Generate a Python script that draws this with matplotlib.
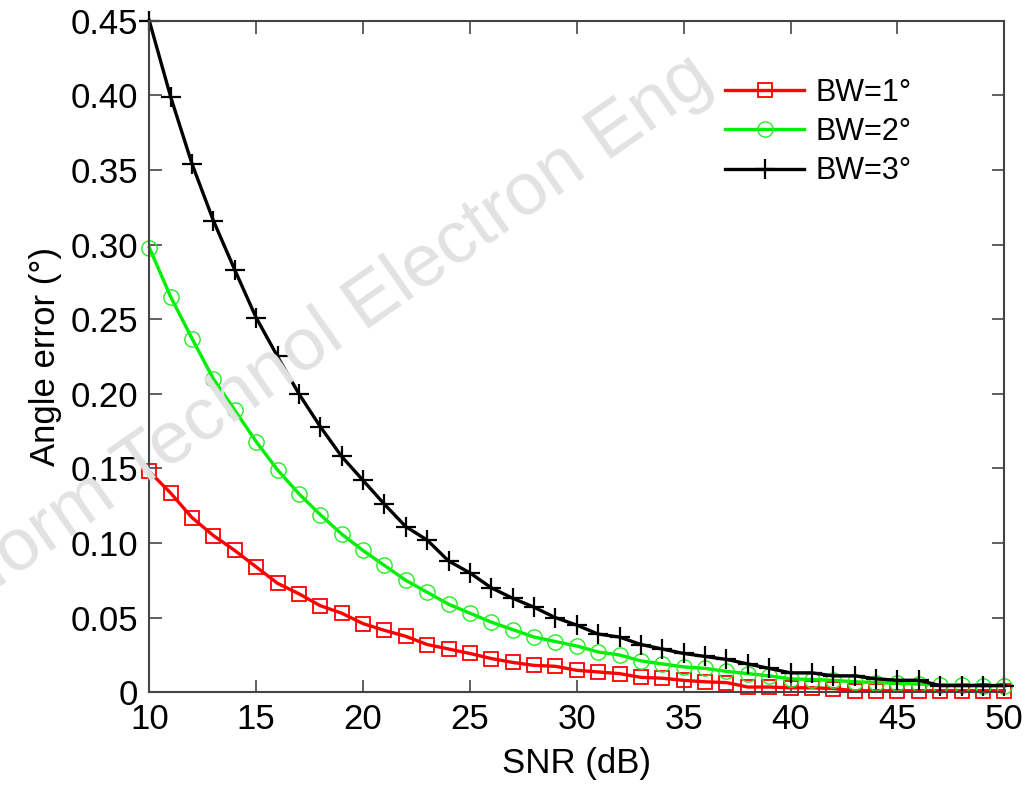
import numpy as np
import matplotlib
matplotlib.use("Agg")
import matplotlib.pyplot as plt

plt.rcParams['font.family'] = ['Liberation Sans', 'DejaVu Sans']

snr = list(range(10, 51))

bw1 = [0.148, 0.1335, 0.117, 0.105, 0.095, 0.084, 0.073, 0.066, 0.058, 0.053,
       0.046, 0.0415, 0.0375, 0.032, 0.029, 0.026, 0.0226, 0.020, 0.018, 0.0174,
       0.0147, 0.0136, 0.0125, 0.010, 0.0094, 0.008, 0.007, 0.0065, 0.0035, 0.0035,
       0.003, 0.003, 0.0025, 0.001, 0.001, 0.001, 0.001, 0.001, 0.001, 0.001, 0.001]
bw2 = [0.298, 0.265, 0.237, 0.210, 0.189, 0.168, 0.149, 0.133, 0.119, 0.106,
       0.095, 0.085, 0.075, 0.067, 0.059, 0.053, 0.047, 0.042, 0.037, 0.034,
       0.031, 0.027, 0.025, 0.021, 0.019, 0.017, 0.016, 0.014, 0.0125, 0.011,
       0.009, 0.0085, 0.008, 0.007, 0.0065, 0.006, 0.0055, 0.005, 0.005, 0.0045, 0.0045]
bw3 = [0.450, 0.399, 0.354, 0.316, 0.283, 0.251, 0.225, 0.200, 0.178, 0.158,
       0.142, 0.126, 0.111, 0.102, 0.088, 0.080, 0.070, 0.063, 0.057, 0.050,
       0.045, 0.039, 0.037, 0.032, 0.029, 0.026, 0.024, 0.022, 0.019, 0.016,
       0.013, 0.013, 0.011, 0.011, 0.009, 0.008, 0.008, 0.0045, 0.0045, 0.0045, 0.0045]

labels = ['BW=1°', 'BW=2°', 'BW=3°']
yticks = [0, 0.05, 0.10, 0.15, 0.20, 0.25, 0.30, 0.35, 0.40, 0.45]
ytick_labels = ['0', '0.05', '0.10', '0.15', '0.20', '0.25', '0.30', '0.35', '0.40', '0.45']
xticks = [10, 15, 20, 25, 30, 35, 40, 45, 50]

fig = plt.figure(figsize=(10.33, 7.89), dpi=100)
ax = fig.add_axes([0.1445, 0.1226, 0.8277, 0.8512])

# watermark, runs off the left edge like in the original
fig.text(716 / 1033, 1 - 86 / 789, 'Front Inform Technol Electron Eng',
         fontsize=54, color='#e2e2e2', rotation=35, rotation_mode='anchor',
         ha='right', va='baseline', zorder=0)

ax.patch.set_alpha(0)
ax.plot(snr, bw1, color='#ff0000', lw=2.4, marker='s', ms=10, mfc='none',
        mec='#ff0000', mew=1.3, label=labels[0], clip_on=False)
ax.plot(snr, bw2, color='#00ee00', lw=2.4, marker='o', ms=11, mfc='none',
        mec='#22ee22', mew=1.0, label=labels[1], clip_on=False)
ax.plot(snr, bw3, color='black', lw=2.4, marker='+', ms=15, mew=1.6,
        label=labels[2], clip_on=False)

ax.set_xlim(10, 50)
ax.set_ylim(0, 0.45)
ax.set_xticks(xticks)
ax.set_yticks(yticks)
ax.set_yticklabels(ytick_labels)
ax.tick_params(direction='in', length=9, width=1.2, color='#444444',
               labelsize=25, top=True, right=True, pad=8)
for s in ax.spines.values():
    s.set_color('#444444')
    s.set_linewidth(1.5)

ax.set_xlabel('SNR (dB)', fontsize=25, labelpad=8)
ax.set_ylabel('Angle error (°)', fontsize=25, labelpad=6)

leg = ax.legend(loc='upper left', bbox_to_anchor=(725 / 1033, (789 - 78) / 789),
                bbox_transform=fig.transFigure, frameon=False, fontsize=22,
                borderpad=0, borderaxespad=0, handlelength=2.6,
                handletextpad=0.35, labelspacing=0.3)

fig.savefig('out.png', dpi=100)
